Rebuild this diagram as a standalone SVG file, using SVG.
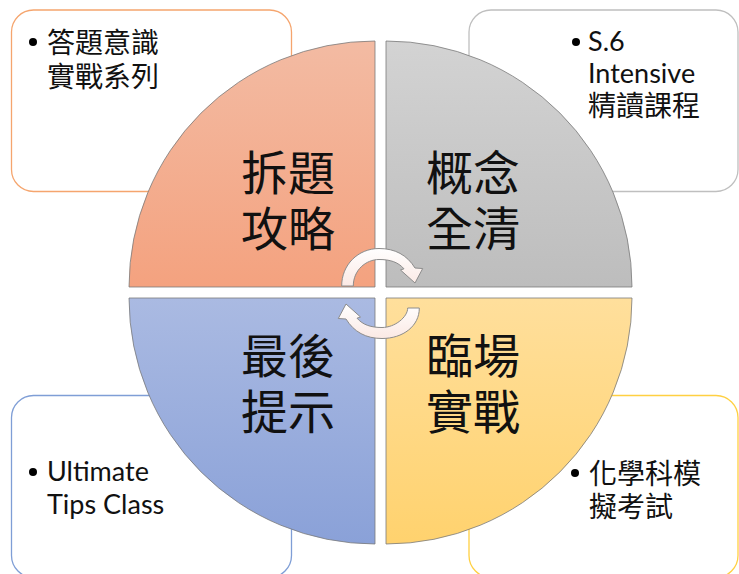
<svg xmlns="http://www.w3.org/2000/svg" width="739" height="574" viewBox="0 0 739 574">
<defs>
<linearGradient id="gTL" x1="0" y1="0" x2="0" y2="1"><stop offset="0" stop-color="#F3BBA3"/><stop offset="1" stop-color="#F4A27F"/></linearGradient>
<linearGradient id="gTR" x1="0" y1="0" x2="0" y2="1"><stop offset="0" stop-color="#D3D3D3"/><stop offset="1" stop-color="#BDBDBD"/></linearGradient>
<linearGradient id="gBL" x1="0" y1="0" x2="0" y2="1"><stop offset="0" stop-color="#AABAE2"/><stop offset="1" stop-color="#8AA1D8"/></linearGradient>
<linearGradient id="gBR" x1="0" y1="0" x2="0" y2="1"><stop offset="0" stop-color="#FFDF9C"/><stop offset="1" stop-color="#FFD26E"/></linearGradient>
<linearGradient id="gArr" x1="0" y1="0" x2="0" y2="1"><stop offset="0" stop-color="#FFFFFF"/><stop offset="1" stop-color="#FBE9E4"/></linearGradient>
</defs>
<style>
.box{fill:#FFFFFF;stroke-width:1.3}
.quad{stroke:#7A7A7A;stroke-opacity:0.8;stroke-width:1}
.big{font-family:"Noto Sans CJK TC","Noto Sans CJK SC",sans-serif;font-size:47px;fill:#111;text-anchor:middle}
.cjk{font-family:"Noto Sans CJK TC","Noto Sans CJK SC",sans-serif;font-size:28px;fill:#111}
.lat{font-family:Lato,"Liberation Sans","Noto Sans CJK TC",sans-serif;font-size:27px;fill:#111}
.bul{fill:#000}
.arr{fill:url(#gArr);stroke:#8C8C8C;stroke-width:1}
</style>
<g id="box-tl">
<rect class="box" x="11.5" y="10" width="280" height="181.5" rx="22" stroke="#F5A56E"/>
<circle class="bul" cx="33" cy="42" r="4"/>
<text class="cjk"><tspan x="47" y="52.5">答題意識</tspan><tspan x="47" y="87">實戰系列</tspan></text>
</g>
<g id="box-tr">
<rect class="box" x="469" y="10" width="269" height="181.5" rx="22" stroke="#BFBFBF"/>
<circle class="bul" cx="576" cy="42" r="4"/>
<text class="lat"><tspan x="588" y="51">S.6</tspan><tspan x="588" y="83">Intensive</tspan></text>
<text class="cjk" x="588" y="115.5">精讀課程</text>
</g>
<g id="box-bl">
<rect class="box" x="11.5" y="395.5" width="280" height="182" rx="22" stroke="#7F9ED6"/>
<circle class="bul" cx="33" cy="472" r="4"/>
<text class="lat"><tspan x="47" y="481">Ultimate</tspan><tspan x="47" y="514">Tips Class</tspan></text>
</g>
<g id="box-br">
<rect class="box" x="469" y="395.5" width="269" height="182" rx="22" stroke="#FFD042"/>
<circle class="bul" cx="575" cy="473" r="4"/>
<text class="cjk"><tspan x="589" y="483.5">化學科模</tspan><tspan x="589" y="517">擬考試</tspan></text>
</g>
<g id="quad-tl">
<path class="quad" fill="url(#gTL)" d="M375 287 L129 287 A246 246 0 0 1 375 41 Z"/>
<text class="big"><tspan x="288" y="190">拆題</tspan><tspan x="288" y="246">攻略</tspan></text>
</g>
<g id="quad-tr">
<path class="quad" fill="url(#gTR)" d="M386 287 L386 41 A246 246 0 0 1 632 287 Z"/>
<text class="big"><tspan x="473" y="190">概念</tspan><tspan x="473" y="246">全清</tspan></text>
</g>
<g id="quad-bl">
<path class="quad" fill="url(#gBL)" d="M375 298 L375 544 A246 246 0 0 1 129 298 Z"/>
<text class="big"><tspan x="288" y="373">最後</tspan><tspan x="288" y="429">提示</tspan></text>
</g>
<g id="quad-br">
<path class="quad" fill="url(#gBR)" d="M386 298 L632 298 A246 246 0 0 1 386 544 Z"/>
<text class="big"><tspan x="473" y="373">臨場</tspan><tspan x="473" y="429">實戰</tspan></text>
</g>
<g id="connectors">
<path class="arr" d="M341.7 286 C341.5 265 358 248.5 379 248.5 C395 248.5 407 255 415 268 L422.7 268.5 L415 283 L400.5 270 L404 268.8 C398 262 390 259.5 379 259.5 C366 259.5 353.3 270 353.3 286 Z"/>
<path class="arr" d="M419.3 308 C419.5 326 403 338.5 382 338.5 C366 338.5 354 332 346 319 L338.3 318.5 L346 304 L360.5 317 L357 318.2 C363 325 371 327.5 382 327.5 C395 327.5 407.7 317 407.7 308 Z"/>
</g>
</svg>
